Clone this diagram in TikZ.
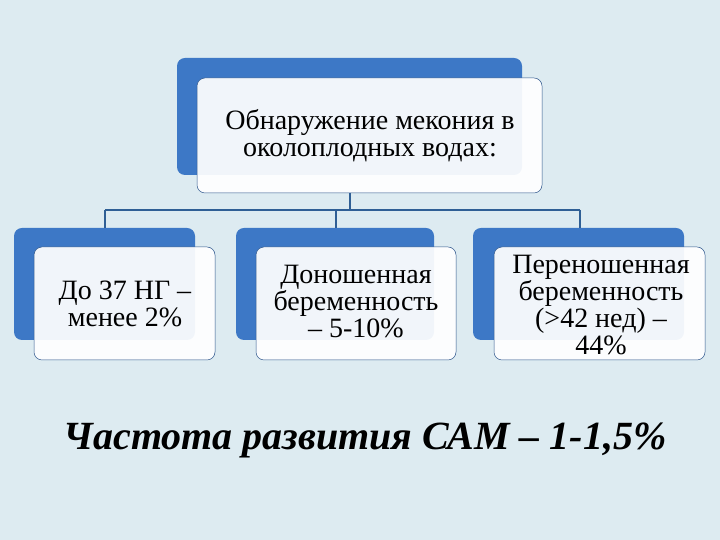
\documentclass[tikz,border=0pt]{standalone}
\usepackage{fontspec}
\setmainfont{Liberation Serif}
\definecolor{bg}{HTML}{DDEBF1}
\definecolor{bl}{HTML}{3D78C6}
\definecolor{ln}{HTML}{2F5F95}
\begin{document}
\begin{tikzpicture}[x=1pt,y=1pt,
 back/.style={fill=bl,rounded corners=8pt},
 front/.style={fill=white,fill opacity=0.93,draw=bl!70!black,line width=0.5pt,rounded corners=8pt},
 lbl/.style={align=center,font=\fontsize{28}{27}\selectfont,text=black},
 conn/.style={draw=ln,line width=1.2pt}]
\fill[bg] (0,0) rectangle (720,540);
\useasboundingbox (0,0) rectangle (720,540);
% top
\fill[back] (177,482) rectangle (522,365);
\draw[front] (197,462) rectangle (542,347);
\node[lbl] (top) at (370,404) {Обнаружение мекония в\\околоплодных водах:};
% boxes
\fill[back] (14,312) rectangle (195,200);
\draw[front] (34,293) rectangle (215,180);
\node[lbl] (a) at (125,236) {До 37 НГ –\\менее 2\%};
\fill[back] (236,312) rectangle (434,200);
\draw[front] (256,293) rectangle (456,180);
\node[lbl] (b) at (356,238) {Доношенная\\беременность\\– 5-10\%};
\fill[back] (473,312) rectangle (684,200);
\draw[front] (494,293) rectangle (705,180);
\node[lbl] (c) at (601,235) {Переношенная\\беременность\\(>42 нед) –\\44\%};
% connectors
\coordinate (t) at (350,347);
\coordinate (h) at (350,330);
\coordinate (l) at (105,330);
\coordinate (m) at (336,330);
\coordinate (r) at (580,330);
\draw[conn] (t) -- (h);
\draw[conn] (l) -- (r);
\draw[conn] (l) -- (105,312);
\draw[conn] (m) -- (336,312);
\draw[conn] (r) -- (580,312);
\node[font=\fontsize{40}{42}\selectfont\bfseries\itshape] (title) at (365,100) {Частота развития САМ – 1-1,5\%};
\end{tikzpicture}
\end{document}
